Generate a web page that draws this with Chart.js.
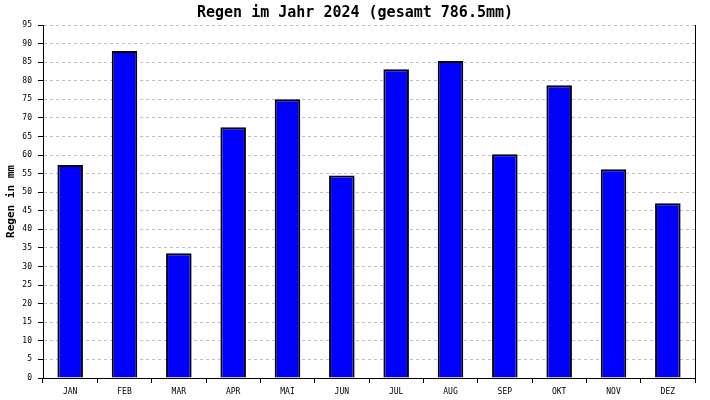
<!DOCTYPE html>
<html>
<head>
<meta charset="utf-8">
<script src="https://cdn.jsdelivr.net/npm/chart.js@4/dist/chart.umd.min.js"></script>
<style>
  html, body { margin: 0; padding: 0; background: #ffffff; }
  #c { display: block; }
</style>
</head>
<body>
<canvas id="c" width="710" height="400"></canvas>
<script>
const months = ["JAN", "FEB", "MAR", "APR", "MAI", "JUN", "JUL", "AUG", "SEP", "OKT", "NOV", "DEZ"];
const rainMm = [57.3, 88.0, 33.6, 67.5, 75.0, 54.5, 83.1, 85.3, 60.2, 78.8, 56.2, 47.0];
const yMin = 0;
const yMax = 95;
const yStep = 5;
const titleText = "Regen im Jahr 2024 (gesamt 786.5mm)";
const yTitle = "Regen in mm";

const MONO = "'DejaVu Sans Mono', 'Liberation Mono', monospace";

new Chart(document.getElementById('c'), {
  type: 'bar',
  data: {
    labels: months,
    datasets: [{
      data: rainMm,
      backgroundColor: '#0000ff',
      borderColor: '#000000',
      borderWidth: 2,
      barPercentage: 0.47,
      categoryPercentage: 1.0
    }]
  },
  options: {
    responsive: false,
    animation: false,
    devicePixelRatio: 1,
    layout: { padding: 0 },
    plugins: {
      legend: { display: false },
      tooltip: { enabled: false },
      title: {
        display: true,
        text: titleText,
        color: '#000000',
        font: { family: MONO, size: 15, weight: 'bold', lineHeight: 1.2 },
        padding: { top: 4, bottom: 3 }
      }
    },
    scales: {
      x: {
        grid: {
          offset: true,
          drawOnChartArea: false,
          drawTicks: true,
          tickLength: 5,
          tickColor: '#000000',
          tickWidth: 1
        },
        border: { display: true, color: '#000000', width: 1 },
        ticks: {
          color: '#000000',
          font: { family: MONO, size: 8 },
          padding: 4,
          maxRotation: 0,
          autoSkip: false
        },
        afterFit(scale) { scale.height = 22; }
      },
      y: {
        min: yMin,
        max: yMax,
        grid: {
          color: '#c0c0c0',
          lineWidth: 1,
          drawTicks: true,
          tickLength: 5,
          tickColor: '#000000',
          tickWidth: 1,
          tickBorderDash: []
        },
        border: { display: true, color: '#000000', width: 1, dash: [3, 3] },
        ticks: {
          stepSize: yStep,
          color: '#000000',
          font: { family: MONO, size: 8 },
          padding: 6
        },
        title: {
          display: true,
          text: yTitle,
          color: '#000000',
          font: { family: MONO, size: 11, weight: 'bold', lineHeight: 1.2 },
          padding: { top: 5, bottom: 0 }
        },
        afterFit(scale) { scale.width = 43; }
      },
      yRight: {
        position: 'right',
        display: true,
        min: yMin,
        max: yMax,
        grid: { drawOnChartArea: false, drawTicks: false },
        border: { display: true, color: '#000000', width: 1 },
        ticks: { display: false },
        afterFit(scale) { scale.width = 15; }
      }
    }
  }
});
</script>
</body>
</html>
